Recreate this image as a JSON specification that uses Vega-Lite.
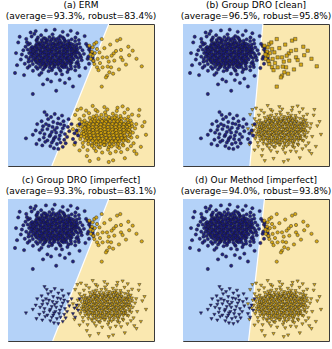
{
"$schema":"https://vega.github.io/schema/vega-lite/v6.json",
"padding":{"left":5,"top":0,"right":0,"bottom":0},
"config":{"view":{"fill":"#fae8b0","stroke":"#3a3a3a","strokeWidth":1},"title":{"font":"DejaVu Sans","fontSize":9,"fontWeight":"normal","lineHeight":11,"offset":3,"color":"#000000","anchor":"middle"}},
"datasets":{
"pts":[
{"x":2.12,"y":8.66,"g":"A"},{"x":2.35,"y":8.75,"g":"A"},{"x":2.61,"y":8.69,"g":"A"},{"x":2.90,"y":8.78,"g":"A"},{"x":3.13,"y":8.64,"g":"A"},{"x":3.41,"y":8.73,"g":"A"},{"x":3.66,"y":8.68,"g":"A"},{"x":3.92,"y":8.77,"g":"A"},{"x":4.18,"y":8.63,"g":"A"},
{"x":1.90,"y":8.47,"g":"A"},{"x":2.14,"y":8.55,"g":"A"},{"x":2.42,"y":8.49,"g":"A"},{"x":2.67,"y":8.44,"g":"A"},{"x":2.93,"y":8.53,"g":"A"},{"x":3.20,"y":8.48,"g":"A"},{"x":3.44,"y":8.56,"g":"A"},{"x":3.71,"y":8.45,"g":"A"},{"x":3.95,"y":8.51,"g":"A"},{"x":4.22,"y":8.47,"g":"A"},{"x":4.47,"y":8.54,"g":"A"},
{"x":1.78,"y":8.31,"g":"A"},{"x":2.05,"y":8.27,"g":"A"},{"x":2.31,"y":8.34,"g":"A"},{"x":2.58,"y":8.29,"g":"A"},{"x":2.85,"y":8.25,"g":"A"},{"x":3.08,"y":8.33,"g":"A"},{"x":3.37,"y":8.28,"g":"A"},{"x":3.60,"y":8.35,"g":"A"},{"x":3.88,"y":8.26,"g":"A"},{"x":4.13,"y":8.32,"g":"A"},{"x":4.38,"y":8.29,"g":"A"},
{"x":1.86,"y":8.09,"g":"A"},{"x":2.18,"y":8.13,"g":"A"},{"x":2.44,"y":8.06,"g":"A"},{"x":2.70,"y":8.12,"g":"A"},{"x":2.97,"y":8.08,"g":"A"},{"x":3.24,"y":8.14,"g":"A"},{"x":3.50,"y":8.05,"g":"A"},{"x":3.77,"y":8.11,"g":"A"},{"x":4.02,"y":8.07,"g":"A"},{"x":4.29,"y":8.13,"g":"A"},{"x":4.52,"y":8.10,"g":"A"},
{"x":1.81,"y":7.92,"g":"A"},{"x":2.08,"y":7.86,"g":"A"},{"x":2.36,"y":7.94,"g":"A"},{"x":2.63,"y":7.88,"g":"A"},{"x":2.88,"y":7.93,"g":"A"},{"x":3.16,"y":7.87,"g":"A"},{"x":3.42,"y":7.95,"g":"A"},{"x":3.68,"y":7.89,"g":"A"},{"x":3.94,"y":7.91,"g":"A"},{"x":4.20,"y":7.85,"g":"A"},{"x":4.46,"y":7.93,"g":"A"},
{"x":1.92,"y":7.68,"g":"A"},{"x":2.20,"y":7.73,"g":"A"},{"x":2.47,"y":7.66,"g":"A"},{"x":2.72,"y":7.71,"g":"A"},{"x":3.01,"y":7.67,"g":"A"},{"x":3.27,"y":7.74,"g":"A"},{"x":3.53,"y":7.69,"g":"A"},{"x":3.79,"y":7.72,"g":"A"},{"x":4.05,"y":7.65,"g":"A"},{"x":4.33,"y":7.70,"g":"A"},
{"x":1.85,"y":7.49,"g":"A"},{"x":2.11,"y":7.46,"g":"A"},{"x":2.39,"y":7.52,"g":"A"},{"x":2.66,"y":7.47,"g":"A"},{"x":2.92,"y":7.53,"g":"A"},{"x":3.18,"y":7.45,"g":"A"},{"x":3.45,"y":7.51,"g":"A"},{"x":3.72,"y":7.48,"g":"A"},{"x":3.98,"y":7.54,"g":"A"},{"x":4.24,"y":7.46,"g":"A"},{"x":4.49,"y":7.50,"g":"A"},
{"x":1.97,"y":7.28,"g":"A"},{"x":2.25,"y":7.33,"g":"A"},{"x":2.53,"y":7.26,"g":"A"},{"x":2.79,"y":7.31,"g":"A"},{"x":3.06,"y":7.27,"g":"A"},{"x":3.32,"y":7.34,"g":"A"},{"x":3.58,"y":7.29,"g":"A"},{"x":3.85,"y":7.25,"g":"A"},{"x":4.11,"y":7.32,"g":"A"},{"x":4.36,"y":7.28,"g":"A"},
{"x":2.33,"y":7.13,"g":"A"},{"x":2.60,"y":7.06,"g":"A"},{"x":2.87,"y":7.11,"g":"A"},{"x":3.14,"y":7.08,"g":"A"},{"x":3.39,"y":7.14,"g":"A"},{"x":3.65,"y":7.07,"g":"A"},{"x":3.91,"y":7.12,"g":"A"},
{"x":1.97,"y":8.61,"g":"A"},{"x":2.24,"y":8.58,"g":"A"},{"x":2.49,"y":8.63,"g":"A"},{"x":2.77,"y":8.59,"g":"A"},{"x":3.03,"y":8.62,"g":"A"},{"x":3.29,"y":8.57,"g":"A"},{"x":3.55,"y":8.64,"g":"A"},{"x":3.81,"y":8.60,"g":"A"},{"x":4.07,"y":8.58,"g":"A"},{"x":4.31,"y":8.62,"g":"A"},
{"x":1.95,"y":8.39,"g":"A"},{"x":2.20,"y":8.42,"g":"A"},{"x":2.46,"y":8.37,"g":"A"},{"x":2.73,"y":8.41,"g":"A"},{"x":2.99,"y":8.38,"g":"A"},{"x":3.26,"y":8.43,"g":"A"},{"x":3.52,"y":8.39,"g":"A"},{"x":3.78,"y":8.40,"g":"A"},{"x":4.03,"y":8.36,"g":"A"},{"x":4.28,"y":8.41,"g":"A"},{"x":4.55,"y":8.38,"g":"A"},
{"x":1.70,"y":8.19,"g":"A"},{"x":1.98,"y":8.21,"g":"A"},{"x":2.25,"y":8.17,"g":"A"},{"x":2.52,"y":8.22,"g":"A"},{"x":2.78,"y":8.18,"g":"A"},{"x":3.04,"y":8.20,"g":"A"},{"x":3.30,"y":8.23,"g":"A"},{"x":3.56,"y":8.17,"g":"A"},{"x":3.83,"y":8.21,"g":"A"},{"x":4.08,"y":8.19,"g":"A"},{"x":4.35,"y":8.22,"g":"A"},{"x":4.60,"y":8.18,"g":"A"},
{"x":1.68,"y":7.99,"g":"A"},{"x":1.95,"y":8.02,"g":"A"},{"x":2.23,"y":7.98,"g":"A"},{"x":2.50,"y":8.01,"g":"A"},{"x":2.76,"y":7.97,"g":"A"},{"x":3.02,"y":8.03,"g":"A"},{"x":3.29,"y":7.99,"g":"A"},{"x":3.55,"y":8.00,"g":"A"},{"x":3.82,"y":7.98,"g":"A"},{"x":4.08,"y":8.02,"g":"A"},{"x":4.35,"y":7.97,"g":"A"},{"x":4.62,"y":8.01,"g":"A"},
{"x":1.72,"y":7.79,"g":"A"},{"x":1.99,"y":7.81,"g":"A"},{"x":2.26,"y":7.77,"g":"A"},{"x":2.52,"y":7.82,"g":"A"},{"x":2.79,"y":7.78,"g":"A"},{"x":3.05,"y":7.80,"g":"A"},{"x":3.31,"y":7.83,"g":"A"},{"x":3.58,"y":7.77,"g":"A"},{"x":3.84,"y":7.81,"g":"A"},{"x":4.10,"y":7.79,"g":"A"},{"x":4.37,"y":7.82,"g":"A"},{"x":4.62,"y":7.78,"g":"A"},
{"x":1.74,"y":7.59,"g":"A"},{"x":2.02,"y":7.61,"g":"A"},{"x":2.29,"y":7.57,"g":"A"},{"x":2.55,"y":7.62,"g":"A"},{"x":2.82,"y":7.58,"g":"A"},{"x":3.08,"y":7.60,"g":"A"},{"x":3.35,"y":7.63,"g":"A"},{"x":3.61,"y":7.57,"g":"A"},{"x":3.87,"y":7.61,"g":"A"},{"x":4.14,"y":7.59,"g":"A"},{"x":4.40,"y":7.62,"g":"A"},
{"x":1.90,"y":7.39,"g":"A"},{"x":2.17,"y":7.41,"g":"A"},{"x":2.44,"y":7.37,"g":"A"},{"x":2.71,"y":7.42,"g":"A"},{"x":2.97,"y":7.38,"g":"A"},{"x":3.24,"y":7.40,"g":"A"},{"x":3.50,"y":7.43,"g":"A"},{"x":3.77,"y":7.37,"g":"A"},{"x":4.03,"y":7.41,"g":"A"},{"x":4.30,"y":7.39,"g":"A"},
{"x":2.12,"y":7.19,"g":"A"},{"x":2.40,"y":7.21,"g":"A"},{"x":2.66,"y":7.17,"g":"A"},{"x":2.93,"y":7.22,"g":"A"},{"x":3.20,"y":7.18,"g":"A"},{"x":3.47,"y":7.20,"g":"A"},{"x":3.73,"y":7.23,"g":"A"},{"x":3.99,"y":7.17,"g":"A"},{"x":4.25,"y":7.21,"g":"A"},
{"x":1.95,"y":8.84,"g":"A"},{"x":2.30,"y":8.87,"g":"A"},{"x":2.62,"y":8.82,"g":"A"},{"x":2.98,"y":8.89,"g":"A"},{"x":3.22,"y":8.83,"g":"A"},{"x":3.55,"y":8.86,"g":"A"},{"x":3.88,"y":8.85,"g":"A"},{"x":4.15,"y":8.81,"g":"A"},{"x":2.45,"y":9.00,"g":"A"},{"x":3.10,"y":9.02,"g":"A"},{"x":3.75,"y":9.06,"g":"A"},{"x":2.05,"y":9.05,"g":"A"},
{"x":2.20,"y":6.98,"g":"A"},{"x":2.55,"y":7.00,"g":"A"},{"x":2.85,"y":6.95,"g":"A"},{"x":3.18,"y":6.99,"g":"A"},{"x":3.45,"y":6.93,"g":"A"},{"x":3.72,"y":7.00,"g":"A"},{"x":4.00,"y":6.96,"g":"A"},{"x":4.30,"y":7.05,"g":"A"},{"x":2.40,"y":6.80,"g":"A"},{"x":3.00,"y":6.75,"g":"A"},{"x":3.60,"y":6.70,"g":"A"},{"x":4.15,"y":6.80,"g":"A"},
{"x":1.50,"y":8.62,"g":"A"},{"x":1.58,"y":8.30,"g":"A"},{"x":1.45,"y":7.95,"g":"A"},{"x":1.55,"y":7.70,"g":"A"},{"x":1.62,"y":7.40,"g":"A"},{"x":1.70,"y":7.18,"g":"A"},{"x":1.35,"y":8.20,"g":"A"},{"x":1.40,"y":7.35,"g":"A"},
{"x":4.70,"y":8.55,"g":"A"},{"x":4.75,"y":8.20,"g":"A"},{"x":4.85,"y":7.95,"g":"A"},{"x":4.80,"y":7.60,"g":"A"},{"x":4.68,"y":7.25,"g":"A"},{"x":4.95,"y":8.35,"g":"A"},{"x":4.60,"y":7.00,"g":"A"},{"x":5.00,"y":7.65,"g":"A"},
{"x":1.25,"y":8.95,"g":"A"},{"x":1.62,"y":9.12,"g":"A"},{"x":1.98,"y":8.90,"g":"A"},{"x":2.27,"y":9.21,"g":"A"},{"x":2.55,"y":8.98,"g":"A"},{"x":2.84,"y":9.08,"g":"A"},{"x":3.05,"y":9.27,"g":"A"},{"x":3.31,"y":8.93,"g":"A"},{"x":3.58,"y":9.15,"g":"A"},{"x":3.83,"y":8.96,"g":"A"},{"x":4.09,"y":9.22,"g":"A"},{"x":4.36,"y":8.92,"g":"A"},{"x":4.62,"y":9.05,"g":"A"},{"x":2.71,"y":8.88,"g":"A"},{"x":3.47,"y":9.02,"g":"A"},{"x":1.80,"y":9.30,"g":"A"},{"x":4.85,"y":8.87,"g":"A"},
{"x":1.35,"y":6.92,"g":"A"},{"x":1.71,"y":6.71,"g":"A"},{"x":2.02,"y":6.85,"g":"A"},{"x":2.29,"y":6.56,"g":"A"},{"x":2.51,"y":6.93,"g":"A"},{"x":2.78,"y":6.68,"g":"A"},{"x":3.03,"y":6.88,"g":"A"},{"x":3.29,"y":6.50,"g":"A"},{"x":3.55,"y":6.79,"g":"A"},{"x":3.81,"y":6.95,"g":"A"},{"x":4.07,"y":6.62,"g":"A"},{"x":4.33,"y":6.86,"g":"A"},{"x":4.61,"y":6.74,"g":"A"},{"x":2.15,"y":6.42,"g":"A"},{"x":3.70,"y":6.45,"g":"A"},{"x":1.92,"y":6.98,"g":"A"},{"x":4.85,"y":6.97,"g":"A"},
{"x":0.95,"y":7.85,"g":"A"},{"x":1.20,"y":8.40,"g":"A"},{"x":1.42,"y":7.55,"g":"A"},{"x":1.15,"y":7.20,"g":"A"},{"x":1.55,"y":8.10,"g":"A"},{"x":1.30,"y":8.72,"g":"A"},{"x":1.62,"y":7.88,"g":"A"},{"x":1.05,"y":8.15,"g":"A"},{"x":1.48,"y":7.05,"g":"A"},{"x":1.38,"y":8.55,"g":"A"},{"x":0.88,"y":7.50,"g":"A"},{"x":1.66,"y":8.38,"g":"A"},{"x":1.25,"y":7.70,"g":"A"},
{"x":4.70,"y":8.35,"g":"A"},{"x":4.95,"y":7.80,"g":"A"},{"x":4.78,"y":7.35,"g":"A"},{"x":5.10,"y":8.15,"g":"A"},{"x":4.66,"y":7.68,"g":"A"},{"x":4.88,"y":8.62,"g":"A"},{"x":5.05,"y":7.45,"g":"A"},{"x":4.73,"y":8.00,"g":"A"},{"x":5.20,"y":7.90,"g":"A"},{"x":4.82,"y":7.15,"g":"A"},{"x":4.60,"y":8.80,"g":"A"},
{"x":0.48,"y":6.55,"g":"A"},{"x":1.70,"y":5.07,"g":"A"},{"x":3.30,"y":5.30,"g":"A"},{"x":1.90,"y":9.50,"g":"A"},{"x":3.20,"y":9.60,"g":"A"},{"x":4.30,"y":9.52,"g":"A"},{"x":0.55,"y":7.95,"g":"A"},{"x":0.70,"y":8.70,"g":"A"},{"x":0.62,"y":7.10,"g":"A"},{"x":2.60,"y":9.55,"g":"A"},{"x":3.75,"y":9.45,"g":"A"},{"x":4.75,"y":9.35,"g":"A"},{"x":5.35,"y":8.60,"g":"A"},{"x":5.45,"y":7.55,"g":"A"},{"x":5.30,"y":6.90,"g":"A"},{"x":4.90,"y":6.35,"g":"A"},{"x":4.20,"y":6.15,"g":"A"},{"x":2.70,"y":6.10,"g":"A"},{"x":1.10,"y":6.40,"g":"A"},{"x":2.40,"y":5.75,"g":"A"},{"x":3.90,"y":5.85,"g":"A"},{"x":1.55,"y":9.40,"g":"A"},{"x":5.55,"y":8.20,"g":"A"},{"x":4.45,"y":5.60,"g":"A"},{"x":2.95,"y":5.95,"g":"A"},{"x":0.80,"y":9.10,"g":"A"},{"x":5.25,"y":9.15,"g":"A"},{"x":3.55,"y":6.05,"g":"A"},
{"x":5.60,"y":8.35,"g":"A"},{"x":5.75,"y":7.95,"g":"A"},{"x":5.50,"y":7.70,"g":"A"},{"x":5.85,"y":7.40,"g":"A"},{"x":5.65,"y":8.05,"g":"A"},{"x":5.45,"y":8.45,"g":"A"},{"x":5.80,"y":7.60,"g":"A"},{"x":5.55,"y":7.20,"g":"A"},
{"x":5.79,"y":3.28,"g":"B"},{"x":6.03,"y":3.21,"g":"B"},{"x":6.31,"y":3.27,"g":"B"},{"x":6.58,"y":3.24,"g":"B"},{"x":6.84,"y":3.20,"g":"B"},{"x":7.12,"y":3.29,"g":"B"},{"x":7.37,"y":3.23,"g":"B"},{"x":7.63,"y":3.26,"g":"B"},
{"x":5.41,"y":3.04,"g":"B"},{"x":5.68,"y":3.08,"g":"B"},{"x":5.95,"y":3.02,"g":"B"},{"x":6.20,"y":3.07,"g":"B"},{"x":6.47,"y":3.03,"g":"B"},{"x":6.73,"y":3.09,"g":"B"},{"x":6.99,"y":3.01,"g":"B"},{"x":7.26,"y":3.06,"g":"B"},{"x":7.51,"y":3.04,"g":"B"},{"x":7.78,"y":3.08,"g":"B"},{"x":8.03,"y":3.02,"g":"B"},
{"x":5.47,"y":2.86,"g":"B"},{"x":5.74,"y":2.82,"g":"B"},{"x":6.00,"y":2.88,"g":"B"},{"x":6.27,"y":2.83,"g":"B"},{"x":6.53,"y":2.87,"g":"B"},{"x":6.80,"y":2.81,"g":"B"},{"x":7.06,"y":2.89,"g":"B"},{"x":7.32,"y":2.84,"g":"B"},{"x":7.58,"y":2.86,"g":"B"},{"x":7.85,"y":2.82,"g":"B"},{"x":8.10,"y":2.87,"g":"B"},
{"x":5.38,"y":2.64,"g":"B"},{"x":5.63,"y":2.68,"g":"B"},{"x":5.90,"y":2.62,"g":"B"},{"x":6.16,"y":2.67,"g":"B"},{"x":6.42,"y":2.63,"g":"B"},{"x":6.69,"y":2.69,"g":"B"},{"x":6.95,"y":2.61,"g":"B"},{"x":7.21,"y":2.66,"g":"B"},{"x":7.47,"y":2.64,"g":"B"},{"x":7.74,"y":2.68,"g":"B"},{"x":8.00,"y":2.62,"g":"B"},
{"x":5.45,"y":2.47,"g":"B"},{"x":5.71,"y":2.42,"g":"B"},{"x":5.98,"y":2.48,"g":"B"},{"x":6.24,"y":2.43,"g":"B"},{"x":6.50,"y":2.46,"g":"B"},{"x":6.77,"y":2.41,"g":"B"},{"x":7.03,"y":2.49,"g":"B"},{"x":7.29,"y":2.44,"g":"B"},{"x":7.55,"y":2.47,"g":"B"},{"x":7.82,"y":2.42,"g":"B"},{"x":8.07,"y":2.45,"g":"B"},
{"x":5.50,"y":2.24,"g":"B"},{"x":5.77,"y":2.28,"g":"B"},{"x":6.04,"y":2.22,"g":"B"},{"x":6.30,"y":2.27,"g":"B"},{"x":6.56,"y":2.23,"g":"B"},{"x":6.83,"y":2.29,"g":"B"},{"x":7.09,"y":2.21,"g":"B"},{"x":7.35,"y":2.26,"g":"B"},{"x":7.61,"y":2.24,"g":"B"},{"x":7.88,"y":2.28,"g":"B"},
{"x":5.43,"y":2.06,"g":"B"},{"x":5.69,"y":2.02,"g":"B"},{"x":5.96,"y":2.08,"g":"B"},{"x":6.22,"y":2.03,"g":"B"},{"x":6.49,"y":2.07,"g":"B"},{"x":6.75,"y":2.01,"g":"B"},{"x":7.01,"y":2.09,"g":"B"},{"x":7.28,"y":2.04,"g":"B"},{"x":7.54,"y":2.06,"g":"B"},{"x":7.80,"y":2.02,"g":"B"},{"x":8.05,"y":2.07,"g":"B"},
{"x":5.55,"y":1.84,"g":"B"},{"x":5.82,"y":1.88,"g":"B"},{"x":6.08,"y":1.82,"g":"B"},{"x":6.35,"y":1.87,"g":"B"},{"x":6.61,"y":1.83,"g":"B"},{"x":6.88,"y":1.89,"g":"B"},{"x":7.14,"y":1.81,"g":"B"},{"x":7.40,"y":1.86,"g":"B"},{"x":7.66,"y":1.84,"g":"B"},{"x":7.92,"y":1.88,"g":"B"},
{"x":5.93,"y":1.62,"g":"B"},{"x":6.19,"y":1.68,"g":"B"},{"x":6.46,"y":1.63,"g":"B"},{"x":6.72,"y":1.67,"g":"B"},{"x":6.98,"y":1.61,"g":"B"},{"x":7.25,"y":1.69,"g":"B"},{"x":7.51,"y":1.64,"g":"B"},
{"x":5.66,"y":3.14,"g":"B"},{"x":5.92,"y":3.17,"g":"B"},{"x":6.18,"y":3.13,"g":"B"},{"x":6.44,"y":3.16,"g":"B"},{"x":6.71,"y":3.12,"g":"B"},{"x":6.97,"y":3.18,"g":"B"},{"x":7.24,"y":3.14,"g":"B"},{"x":7.50,"y":3.16,"g":"B"},{"x":7.76,"y":3.13,"g":"B"},
{"x":5.30,"y":2.94,"g":"B"},{"x":5.56,"y":2.97,"g":"B"},{"x":5.83,"y":2.93,"g":"B"},{"x":6.09,"y":2.96,"g":"B"},{"x":6.36,"y":2.92,"g":"B"},{"x":6.62,"y":2.98,"g":"B"},{"x":6.88,"y":2.94,"g":"B"},{"x":7.15,"y":2.96,"g":"B"},{"x":7.41,"y":2.93,"g":"B"},{"x":7.67,"y":2.97,"g":"B"},{"x":7.94,"y":2.94,"g":"B"},{"x":8.20,"y":2.96,"g":"B"},
{"x":5.25,"y":2.74,"g":"B"},{"x":5.52,"y":2.77,"g":"B"},{"x":5.79,"y":2.73,"g":"B"},{"x":6.05,"y":2.76,"g":"B"},{"x":6.32,"y":2.72,"g":"B"},{"x":6.58,"y":2.78,"g":"B"},{"x":6.84,"y":2.74,"g":"B"},{"x":7.11,"y":2.76,"g":"B"},{"x":7.37,"y":2.73,"g":"B"},{"x":7.63,"y":2.77,"g":"B"},{"x":7.90,"y":2.74,"g":"B"},{"x":8.16,"y":2.76,"g":"B"},
{"x":5.28,"y":2.54,"g":"B"},{"x":5.55,"y":2.57,"g":"B"},{"x":5.82,"y":2.53,"g":"B"},{"x":6.08,"y":2.56,"g":"B"},{"x":6.35,"y":2.52,"g":"B"},{"x":6.61,"y":2.58,"g":"B"},{"x":6.87,"y":2.54,"g":"B"},{"x":7.14,"y":2.56,"g":"B"},{"x":7.40,"y":2.53,"g":"B"},{"x":7.66,"y":2.57,"g":"B"},{"x":7.93,"y":2.54,"g":"B"},{"x":8.19,"y":2.56,"g":"B"},
{"x":5.31,"y":2.34,"g":"B"},{"x":5.58,"y":2.37,"g":"B"},{"x":5.85,"y":2.33,"g":"B"},{"x":6.11,"y":2.36,"g":"B"},{"x":6.38,"y":2.32,"g":"B"},{"x":6.64,"y":2.38,"g":"B"},{"x":6.90,"y":2.34,"g":"B"},{"x":7.17,"y":2.36,"g":"B"},{"x":7.43,"y":2.33,"g":"B"},{"x":7.69,"y":2.37,"g":"B"},{"x":7.96,"y":2.34,"g":"B"},{"x":8.22,"y":2.36,"g":"B"},
{"x":5.35,"y":2.14,"g":"B"},{"x":5.62,"y":2.17,"g":"B"},{"x":5.89,"y":2.13,"g":"B"},{"x":6.15,"y":2.16,"g":"B"},{"x":6.42,"y":2.12,"g":"B"},{"x":6.68,"y":2.18,"g":"B"},{"x":6.94,"y":2.14,"g":"B"},{"x":7.21,"y":2.16,"g":"B"},{"x":7.47,"y":2.13,"g":"B"},{"x":7.73,"y":2.17,"g":"B"},{"x":8.00,"y":2.14,"g":"B"},
{"x":5.40,"y":1.94,"g":"B"},{"x":5.67,"y":1.97,"g":"B"},{"x":5.94,"y":1.93,"g":"B"},{"x":6.20,"y":1.96,"g":"B"},{"x":6.47,"y":1.92,"g":"B"},{"x":6.73,"y":1.98,"g":"B"},{"x":6.99,"y":1.94,"g":"B"},{"x":7.26,"y":1.96,"g":"B"},{"x":7.52,"y":1.93,"g":"B"},{"x":7.78,"y":1.97,"g":"B"},{"x":8.05,"y":1.94,"g":"B"},
{"x":5.52,"y":1.74,"g":"B"},{"x":5.79,"y":1.77,"g":"B"},{"x":6.05,"y":1.73,"g":"B"},{"x":6.32,"y":1.76,"g":"B"},{"x":6.58,"y":1.72,"g":"B"},{"x":6.85,"y":1.78,"g":"B"},{"x":7.11,"y":1.74,"g":"B"},{"x":7.38,"y":1.76,"g":"B"},{"x":7.64,"y":1.73,"g":"B"},{"x":7.90,"y":1.77,"g":"B"},
{"x":5.60,"y":3.38,"g":"B"},{"x":5.95,"y":3.35,"g":"B"},{"x":6.25,"y":3.40,"g":"B"},{"x":6.55,"y":3.36,"g":"B"},{"x":6.85,"y":3.33,"g":"B"},{"x":7.15,"y":3.39,"g":"B"},{"x":7.45,"y":3.35,"g":"B"},{"x":7.75,"y":3.37,"g":"B"},{"x":8.00,"y":3.32,"g":"B"},{"x":6.05,"y":3.55,"g":"B"},{"x":6.70,"y":3.58,"g":"B"},{"x":7.40,"y":3.55,"g":"B"},
{"x":5.75,"y":1.52,"g":"B"},{"x":6.05,"y":1.50,"g":"B"},{"x":6.35,"y":1.55,"g":"B"},{"x":6.65,"y":1.48,"g":"B"},{"x":6.95,"y":1.53,"g":"B"},{"x":7.25,"y":1.50,"g":"B"},{"x":7.55,"y":1.54,"g":"B"},{"x":7.85,"y":1.52,"g":"B"},{"x":6.20,"y":1.35,"g":"B"},{"x":6.90,"y":1.32,"g":"B"},{"x":7.50,"y":1.36,"g":"B"},{"x":5.50,"y":1.55,"g":"B"},
{"x":5.18,"y":2.95,"g":"B"},{"x":5.12,"y":2.60,"g":"B"},{"x":5.15,"y":2.40,"g":"B"},{"x":5.22,"y":2.05,"g":"B"},{"x":5.30,"y":1.80,"g":"B"},{"x":5.25,"y":3.20,"g":"B"},{"x":4.98,"y":2.80,"g":"B"},{"x":5.05,"y":2.30,"g":"B"},
{"x":8.25,"y":3.10,"g":"B"},{"x":8.35,"y":2.70,"g":"B"},{"x":8.38,"y":2.45,"g":"B"},{"x":8.30,"y":2.10,"g":"B"},{"x":8.15,"y":1.80,"g":"B"},{"x":8.50,"y":2.80,"g":"B"},{"x":8.45,"y":2.00,"g":"B"},{"x":8.20,"y":3.25,"g":"B"},
{"x":5.20,"y":3.55,"g":"B"},{"x":5.55,"y":3.72,"g":"B"},{"x":5.85,"y":3.48,"g":"B"},{"x":6.12,"y":3.85,"g":"B"},{"x":6.40,"y":3.60,"g":"B"},{"x":6.65,"y":3.78,"g":"B"},{"x":6.92,"y":3.45,"g":"B"},{"x":7.18,"y":3.68,"g":"B"},{"x":7.45,"y":3.88,"g":"B"},{"x":7.70,"y":3.52,"g":"B"},{"x":7.98,"y":3.75,"g":"B"},{"x":8.25,"y":3.47,"g":"B"},{"x":6.00,"y":3.95,"g":"B"},{"x":7.30,"y":3.42,"g":"B"},{"x":8.50,"y":3.62,"g":"B"},{"x":5.35,"y":3.90,"g":"B"},{"x":6.80,"y":3.98,"g":"B"},
{"x":5.15,"y":1.35,"g":"B"},{"x":5.45,"y":1.12,"g":"B"},{"x":5.75,"y":1.42,"g":"B"},{"x":6.02,"y":1.05,"g":"B"},{"x":6.30,"y":1.30,"g":"B"},{"x":6.58,"y":1.48,"g":"B"},{"x":6.85,"y":1.15,"g":"B"},{"x":7.10,"y":1.38,"g":"B"},{"x":7.38,"y":1.02,"g":"B"},{"x":7.62,"y":1.27,"g":"B"},{"x":7.90,"y":1.45,"g":"B"},{"x":8.18,"y":1.18,"g":"B"},{"x":8.42,"y":1.40,"g":"B"},{"x":6.45,"y":0.95,"g":"B"},{"x":7.75,"y":0.98,"g":"B"},{"x":5.90,"y":1.25,"g":"B"},{"x":7.00,"y":0.90,"g":"B"},
{"x":4.85,"y":2.50,"g":"B"},{"x":5.05,"y":3.10,"g":"B"},{"x":4.95,"y":1.90,"g":"B"},{"x":5.20,"y":2.25,"g":"B"},{"x":4.78,"y":2.85,"g":"B"},{"x":5.12,"y":1.62,"g":"B"},{"x":5.25,"y":2.70,"g":"B"},{"x":4.90,"y":3.30,"g":"B"},{"x":5.00,"y":2.10,"g":"B"},{"x":4.70,"y":2.30,"g":"B"},
{"x":8.30,"y":2.90,"g":"B"},{"x":8.55,"y":2.35,"g":"B"},{"x":8.25,"y":1.75,"g":"B"},{"x":8.70,"y":2.65,"g":"B"},{"x":8.40,"y":3.20,"g":"B"},{"x":8.85,"y":2.05,"g":"B"},{"x":8.35,"y":2.20,"g":"B"},{"x":8.60,"y":1.60,"g":"B"},{"x":8.48,"y":3.00,"g":"B"},{"x":8.78,"y":2.95,"g":"B"},{"x":8.28,"y":2.55,"g":"B"},
{"x":4.45,"y":2.60,"g":"B"},{"x":4.60,"y":3.60,"g":"B"},{"x":4.55,"y":1.50,"g":"B"},{"x":5.00,"y":4.05,"g":"B"},{"x":5.80,"y":4.23,"g":"B"},{"x":6.60,"y":4.15,"g":"B"},{"x":7.50,"y":4.10,"g":"B"},{"x":8.20,"y":4.00,"g":"B"},{"x":8.95,"y":3.55,"g":"B"},{"x":9.20,"y":2.80,"g":"B"},{"x":9.45,"y":2.20,"g":"B"},{"x":9.10,"y":1.35,"g":"B"},{"x":8.80,"y":0.85,"g":"B"},{"x":8.00,"y":0.55,"g":"B"},{"x":7.20,"y":0.40,"g":"B"},{"x":6.20,"y":0.50,"g":"B"},{"x":5.40,"y":0.70,"g":"B"},{"x":4.90,"y":1.10,"g":"B"},{"x":9.35,"y":3.10,"g":"B"},{"x":6.90,"y":0.28,"g":"B"},{"x":8.65,"y":1.05,"g":"B"},{"x":9.00,"y":3.95,"g":"B"},{"x":4.75,"y":3.95,"g":"B"},{"x":5.60,"y":0.35,"g":"B"},{"x":7.85,"y":4.20,"g":"B"},
{"x":3.20,"y":3.66,"g":"C"},{"x":3.45,"y":3.35,"g":"C"},{"x":2.75,"y":3.30,"g":"C"},{"x":3.10,"y":3.10,"g":"C"},{"x":3.60,"y":2.95,"g":"C"},{"x":2.80,"y":2.85,"g":"C"},{"x":2.35,"y":2.55,"g":"C"},{"x":2.70,"y":2.60,"g":"C"},{"x":3.00,"y":2.40,"g":"C"},{"x":3.30,"y":2.35,"g":"C"},{"x":3.65,"y":2.40,"g":"C"},{"x":3.90,"y":2.25,"g":"C"},{"x":2.50,"y":2.25,"g":"C"},{"x":2.85,"y":2.10,"g":"C"},{"x":3.15,"y":1.95,"g":"C"},{"x":3.50,"y":1.90,"g":"C"},{"x":3.85,"y":1.85,"g":"C"},{"x":2.70,"y":1.80,"g":"C"},{"x":3.00,"y":1.65,"g":"C"},{"x":3.35,"y":1.55,"g":"C"},{"x":1.23,"y":1.95,"g":"C"},{"x":3.75,"y":1.35,"g":"C"},{"x":3.15,"y":1.25,"g":"C"},{"x":2.45,"y":2.00,"g":"C"},{"x":4.10,"y":2.75,"g":"C"},{"x":4.35,"y":2.95,"g":"C"},{"x":4.70,"y":2.50,"g":"C"},{"x":4.80,"y":2.15,"g":"C"},{"x":4.45,"y":1.90,"g":"C"},{"x":4.90,"y":2.95,"g":"C"},
{"x":2.95,"y":3.45,"g":"C"},{"x":3.35,"y":2.70,"g":"C"},{"x":2.60,"y":2.95,"g":"C"},{"x":3.05,"y":2.75,"g":"C"},{"x":3.75,"y":2.65,"g":"C"},{"x":2.40,"y":2.80,"g":"C"},{"x":2.20,"y":2.35,"g":"C"},{"x":2.55,"y":1.70,"g":"C"},{"x":3.55,"y":2.15,"g":"C"},{"x":3.25,"y":2.05,"g":"C"},{"x":2.90,"y":1.40,"g":"C"},{"x":3.60,"y":1.65,"g":"C"},{"x":4.05,"y":2.05,"g":"C"},{"x":2.15,"y":1.85,"g":"C"},{"x":1.90,"y":2.50,"g":"C"},{"x":2.30,"y":3.15,"g":"C"},{"x":3.80,"y":3.15,"g":"C"},{"x":4.20,"y":2.45,"g":"C"},{"x":3.45,"y":1.20,"g":"C"},{"x":2.00,"y":2.95,"g":"C"},{"x":3.70,"y":3.55,"g":"C"},{"x":2.65,"y":3.60,"g":"C"},{"x":3.95,"y":1.60,"g":"C"},{"x":2.35,"y":1.45,"g":"C"},{"x":4.15,"y":3.30,"g":"C"},{"x":1.70,"y":2.20,"g":"C"},{"x":3.40,"y":3.00,"g":"C"},{"x":2.90,"y":2.20,"g":"C"},{"x":3.10,"y":1.80,"g":"C"},{"x":4.55,"y":2.30,"g":"C"},{"x":2.50,"y":3.80,"g":"C"},{"x":3.20,"y":2.55,"g":"C"},{"x":4.60,"y":1.65,"g":"C"},{"x":1.95,"y":1.55,"g":"C"},{"x":3.85,"y":2.85,"g":"C"},
{"x":6.42,"y":8.94,"g":"D"},{"x":7.47,"y":8.83,"g":"D"},{"x":7.69,"y":8.94,"g":"D"},{"x":8.24,"y":8.40,"g":"D"},{"x":8.54,"y":8.12,"g":"D"},{"x":7.74,"y":8.17,"g":"D"},{"x":7.24,"y":7.93,"g":"D"},{"x":7.10,"y":7.77,"g":"D"},{"x":6.78,"y":7.65,"g":"D"},{"x":6.48,"y":7.65,"g":"D"},{"x":6.14,"y":7.54,"g":"D"},{"x":6.26,"y":8.00,"g":"D"},{"x":6.10,"y":8.24,"g":"D"},{"x":5.80,"y":8.36,"g":"D"},{"x":5.68,"y":7.54,"g":"D"},{"x":6.10,"y":6.95,"g":"D"},{"x":6.48,"y":6.95,"g":"D"},{"x":7.06,"y":6.95,"g":"D"},{"x":6.83,"y":7.00,"g":"D"},{"x":7.28,"y":7.42,"g":"D"},{"x":7.74,"y":7.65,"g":"D"},{"x":7.85,"y":7.46,"g":"D"},{"x":8.08,"y":7.14,"g":"D"},{"x":9.16,"y":7.02,"g":"D"},{"x":6.94,"y":6.60,"g":"D"},{"x":6.78,"y":6.36,"g":"D"},{"x":6.71,"y":6.24,"g":"D"},{"x":6.42,"y":5.59,"g":"D"},{"x":5.91,"y":8.59,"g":"D"},{"x":5.57,"y":8.47,"g":"D"},{"x":5.80,"y":7.77,"g":"D"},{"x":5.91,"y":7.18,"g":"D"},
{"x":6.60,"y":8.30,"g":"D"},{"x":7.00,"y":8.55,"g":"D"},{"x":5.95,"y":7.95,"g":"D"},{"x":6.30,"y":7.25,"g":"D"},{"x":7.40,"y":8.10,"g":"D"},{"x":5.75,"y":8.05,"g":"D"},{"x":6.90,"y":7.35,"g":"D"},{"x":8.30,"y":7.80,"g":"D"},{"x":7.60,"y":6.80,"g":"D"},{"x":6.05,"y":8.70,"g":"D"},{"x":5.65,"y":7.85,"g":"D"},{"x":6.20,"y":6.75,"g":"D"},{"x":8.80,"y":7.55,"g":"D"},{"x":7.20,"y":6.50,"g":"D"},{"x":5.85,"y":7.40,"g":"D"}
]},
"spacing":8,
"resolve":{"scale":{"shape":"independent"}},
"vconcat":[
{"spacing":29,"bounds":"flush","resolve":{"scale":{"shape":"independent"}},"hconcat":[
{"width":146,"height":142,"title":{"text":["(a) ERM","(average=93.3%, robust=83.4%)"]},"layer":[
{"data":{"values":[{"y":0,"bx":3.0},{"y":10,"bx":6.9}]},"mark":{"type":"area","orient":"horizontal","color":"#b4d2f8","opacity":1,"clip":true},"encoding":{"y":{"field":"y","type":"quantitative","scale":{"domain":[0,10],"nice":false},"axis":null},"x":{"field":"bx","type":"quantitative","scale":{"domain":[0,10],"nice":false},"axis":null},"x2":{"datum":0}}},
{"data":{"values":[{"y":0,"bx":3.0},{"y":10,"bx":6.9}]},"mark":{"type":"line","color":"#ffffff","strokeWidth":1.2,"clip":true},"encoding":{"y":{"field":"y","type":"quantitative"},"x":{"field":"bx","type":"quantitative"},"order":{"field":"y","type":"quantitative"}}},
{"data":{"name":"pts"},"mark":{"type":"point","filled":true,"size":11,"stroke":"#1e1e1e","strokeWidth":0.45,"opacity":0.92,"clip":true,"shape":"circle"},"encoding":{"x":{"field":"x","type":"quantitative"},"y":{"field":"y","type":"quantitative"},"color":{"field":"g","type":"nominal","scale":{"domain":["A","B","C","D"],"range":["#15157a","#d4a30a","#15157a","#d4a30a"]},"legend":null}}}
]},
{"width":146,"height":142,"title":{"text":["(b) Group DRO [clean]","(average=96.5%, robust=95.8%)"]},"layer":[
{"data":{"values":[{"y":0,"bx":4.58},{"y":10,"bx":5.47}]},"mark":{"type":"area","orient":"horizontal","color":"#b4d2f8","opacity":1,"clip":true},"encoding":{"y":{"field":"y","type":"quantitative","scale":{"domain":[0,10],"nice":false},"axis":null},"x":{"field":"bx","type":"quantitative","scale":{"domain":[0,10],"nice":false},"axis":null},"x2":{"datum":0}}},
{"data":{"values":[{"y":0,"bx":4.58},{"y":10,"bx":5.47}]},"mark":{"type":"line","color":"#ffffff","strokeWidth":1.2,"clip":true},"encoding":{"y":{"field":"y","type":"quantitative"},"x":{"field":"bx","type":"quantitative"},"order":{"field":"y","type":"quantitative"}}},
{"data":{"name":"pts"},"mark":{"type":"point","filled":true,"size":11,"stroke":"#1e1e1e","strokeWidth":0.45,"opacity":0.92,"clip":true},"encoding":{"x":{"field":"x","type":"quantitative"},"y":{"field":"y","type":"quantitative"},"color":{"field":"g","type":"nominal","scale":{"domain":["A","B","C","D"],"range":["#15157a","#d4a30a","#15157a","#d4a30a"]},"legend":null},"shape":{"field":"g","type":"nominal","scale":{"domain":["A","B","C","D"],"range":["circle","triangle-down","circle","square"]},"legend":null}}}
]}
]},
{"spacing":29,"bounds":"flush","resolve":{"scale":{"shape":"independent"}},"hconcat":[
{"width":146,"height":142,"title":{"text":["(c) Group DRO [imperfect]","(average=93.3%, robust=83.1%)"]},"layer":[
{"data":{"values":[{"y":0,"bx":3.06},{"y":10,"bx":6.9}]},"mark":{"type":"area","orient":"horizontal","color":"#b4d2f8","opacity":1,"clip":true},"encoding":{"y":{"field":"y","type":"quantitative","scale":{"domain":[0,10],"nice":false},"axis":null},"x":{"field":"bx","type":"quantitative","scale":{"domain":[0,10],"nice":false},"axis":null},"x2":{"datum":0}}},
{"data":{"values":[{"y":0,"bx":3.06},{"y":10,"bx":6.9}]},"mark":{"type":"line","color":"#ffffff","strokeWidth":1.2,"clip":true},"encoding":{"y":{"field":"y","type":"quantitative"},"x":{"field":"bx","type":"quantitative"},"order":{"field":"y","type":"quantitative"}}},
{"data":{"name":"pts"},"mark":{"type":"point","filled":true,"size":11,"stroke":"#1e1e1e","strokeWidth":0.45,"opacity":0.92,"clip":true},"encoding":{"x":{"field":"x","type":"quantitative"},"y":{"field":"y","type":"quantitative"},"color":{"field":"g","type":"nominal","scale":{"domain":["A","B","C","D"],"range":["#15157a","#d4a30a","#15157a","#d4a30a"]},"legend":null},"shape":{"field":"g","type":"nominal","scale":{"domain":["A","B","C","D"],"range":["circle","triangle-down","triangle-down","circle"]},"legend":null}}}
]},
{"width":146,"height":142,"title":{"text":["(d) Our Method [imperfect]","(average=94.0%, robust=93.8%)"]},"layer":[
{"data":{"values":[{"y":0,"bx":4.49},{"y":10,"bx":5.58}]},"mark":{"type":"area","orient":"horizontal","color":"#b4d2f8","opacity":1,"clip":true},"encoding":{"y":{"field":"y","type":"quantitative","scale":{"domain":[0,10],"nice":false},"axis":null},"x":{"field":"bx","type":"quantitative","scale":{"domain":[0,10],"nice":false},"axis":null},"x2":{"datum":0}}},
{"data":{"values":[{"y":0,"bx":4.49},{"y":10,"bx":5.58}]},"mark":{"type":"line","color":"#ffffff","strokeWidth":1.2,"clip":true},"encoding":{"y":{"field":"y","type":"quantitative"},"x":{"field":"bx","type":"quantitative"},"order":{"field":"y","type":"quantitative"}}},
{"data":{"name":"pts"},"mark":{"type":"point","filled":true,"size":11,"stroke":"#1e1e1e","strokeWidth":0.45,"opacity":0.92,"clip":true},"encoding":{"x":{"field":"x","type":"quantitative"},"y":{"field":"y","type":"quantitative"},"color":{"field":"g","type":"nominal","scale":{"domain":["A","B","C","D"],"range":["#15157a","#d4a30a","#15157a","#d4a30a"]},"legend":null},"shape":{"field":"g","type":"nominal","scale":{"domain":["A","B","C","D"],"range":["circle","triangle-down","triangle-down","circle"]},"legend":null}}}
]}
]}
]
}
